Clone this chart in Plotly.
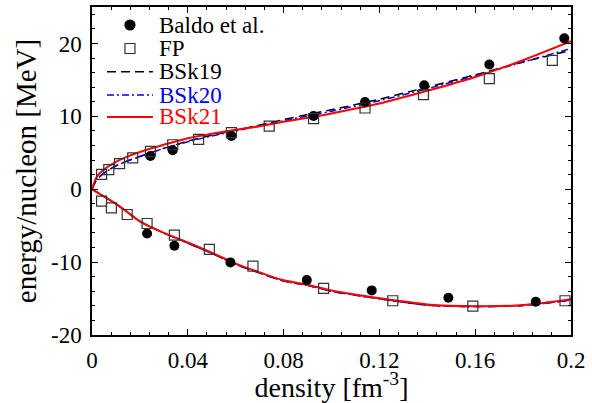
import plotly.graph_objects as go

# density grid for the model curves [fm^-3]
rho = [0, 0.002, 0.005, 0.01, 0.015, 0.02, 0.03, 0.04, 0.05, 0.06, 0.07,
       0.08, 0.09, 0.1, 0.12, 0.14, 0.16, 0.18, 0.2]

# neutron matter (upper branch)
bsk19_nm = [0, 1.3, 2.2, 3.2, 3.9, 4.5, 5.6, 6.6, 7.4, 8.1, 8.8,
            9.55, 10.25, 10.9, 12.35, 14.0, 15.7, 17.45, 19.05]
bsk20_nm = [0, 1.3, 2.2, 3.2, 3.9, 4.5, 5.6, 6.5, 7.3, 8.0, 8.7,
            9.4, 10.05, 10.7, 12.15, 13.8, 15.55, 17.45, 19.3]
bsk21_nm = [0, 1.7, 2.7, 3.75, 4.5, 5.1, 6.1, 7.0, 7.6, 8.15, 8.65,
            9.25, 9.8, 10.4, 11.75, 13.5, 15.4, 17.7, 20.3]

# symmetric matter (lower branch)
bsk19_sm = [0, -0.4, -1.0, -2.0, -3.2, -4.4, -6.0, -7.4, -8.8, -10.3, -11.5,
            -12.6, -13.2, -14.0, -15.0, -15.9, -16.1, -15.95, -15.2]
bsk20_sm = [0, -0.4, -1.0, -2.0, -3.2, -4.4, -6.0, -7.4, -8.8, -10.3, -11.5,
            -12.6, -13.2, -14.0, -15.05, -15.9, -16.1, -15.95, -15.2]
bsk21_sm = [0, -0.4, -1.0, -2.0, -3.2, -4.4, -6.0, -7.3, -8.7, -10.2, -11.4,
            -12.5, -13.1, -13.9, -14.95, -15.8, -16.05, -15.9, -15.1]

# Baldo et al.
baldo_nm_x = [0.0244, 0.0337, 0.0582, 0.0925, 0.114, 0.1387, 0.1659, 0.1972]
baldo_nm_y = [4.56, 5.34, 7.3, 10.04, 11.96, 14.25, 17.1, 20.7]
baldo_sm_x = [0.023, 0.0344, 0.0578, 0.0897, 0.1168, 0.1488, 0.1853]
baldo_sm_y = [-6.07, -7.76, -10.04, -12.47, -13.88, -14.9, -15.44]

# FP
fp_nm_x = [0.004, 0.007, 0.0115, 0.017, 0.0244, 0.0337, 0.0445, 0.0582,
           0.074, 0.0925, 0.114, 0.1384, 0.1659, 0.1922]
fp_nm_y = [2.05, 2.7, 3.5, 4.3, 5.2, 6.1, 6.85, 7.77,
           8.67, 9.68, 11.14, 12.97, 15.16, 17.67]
fp_sm_x = [0.004, 0.0081, 0.0147, 0.023, 0.0344, 0.049, 0.0672,
           0.0967, 0.1256, 0.159, 0.1975]
fp_sm_y = [-1.64, -2.56, -3.47, -4.7, -6.3, -8.26, -10.55,
           -13.6, -15.3, -16.03, -15.3]

x_ticks = [0, 0.04, 0.08, 0.12, 0.16, 0.2]
x_labels = ["0", "0.04", "0.08", "0.12", "0.16", "0.2"]
y_ticks = [-20, -10, 0, 10, 20]
y_labels = ["-20", "-10", "0", "10", "20"]

FONT = "Liberation Serif, Times New Roman, serif"

circle_m = dict(symbol="circle", size=10, color="black")
square_m = dict(symbol="square-open", size=10, color="#333333", line=dict(width=1.2))
models = [
    ("BSk19", bsk19_nm, bsk19_sm, dict(color="black", width=1.5, dash="9px,5px")),
    ("BSk20", bsk20_nm, bsk20_sm, dict(color="#0000ee", width=1.5, dash="7px,3px,2px,3px")),
    ("BSk21", bsk21_nm, bsk21_sm, dict(color="red", width=2)),
]

fig = go.Figure()

for name, nm, sm, line in models:
    for ys in (nm, sm):
        fig.add_trace(go.Scatter(x=rho, y=ys, mode="lines", name=name,
                                 line=dict(shape="spline", smoothing=0.8, **line),
                                 showlegend=False))

for xs, ys in [(baldo_nm_x, baldo_nm_y), (baldo_sm_x, baldo_sm_y)]:
    fig.add_trace(go.Scatter(x=xs, y=ys, mode="markers", name="Baldo et al.", marker=circle_m, showlegend=False))
for xs, ys in [(fp_nm_x, fp_nm_y), (fp_sm_x, fp_sm_y)]:
    fig.add_trace(go.Scatter(x=xs, y=ys, mode="markers", name="FP", marker=square_m, showlegend=False))

# --- hand-made legend (plotly's own legend rows are too tall) ---
L, T, W, H = 92, 7, 479.5, 328  # plot area in pixels


def px(v):
    return (v - L) / W


def py(v):
    return (T + H - v) / H


legend_rows = [
    ("Baldo et al.", "black", 25, "circle", None),
    ("FP", "black", 48.5, "square", None),
    ("BSk19", "black", 71.7, "line", models[0][3]),
    ("BSk20", "#0000ee", 95, "line", models[1][3]),
    ("BSk21", "red", 117, "line", models[2][3]),
]
for label, col, ypix, kind, line in legend_rows:
    if kind == "line":
        fig.add_shape(type="line", xref="paper", yref="paper",
                      x0=px(107), x1=px(153), y0=py(ypix), y1=py(ypix),
                      line=dict(color=line["color"], width=line["width"], dash=line.get("dash", "solid")))
    else:
        fig.add_shape(type=("circle" if kind == "circle" else "rect"), xref="paper", yref="paper",
                      xsizemode="pixel", ysizemode="pixel",
                      xanchor=px(130), yanchor=py(ypix), x0=-5, x1=5, y0=-5, y1=5,
                      fillcolor=("black" if kind == "circle" else "rgba(0,0,0,0)"),
                      line=dict(color=("black" if kind == "circle" else "#333333"), width=1.2))
    fig.add_annotation(text=label, xref="paper", yref="paper", x=px(157), y=py(ypix),
                       xanchor="left", yanchor="middle", showarrow=False,
                       font=dict(family=FONT, size=23, color=col))

axis_common = dict(
    showline=True, linecolor="black", linewidth=1.5, mirror="ticks",
    ticks="inside", ticklen=6, tickwidth=1.2, tickcolor="black",
    showgrid=False, zeroline=False, automargin=False,
    tickfont=dict(family=FONT, size=23, color="black"),
)

fig.update_xaxes(
    range=[0, 0.2], tickvals=x_ticks, ticktext=x_labels, ticklabelstandoff=4,
    minor=dict(dtick=0.008, ticks="inside", ticklen=3.5, tickcolor="black", showgrid=False),
    title=dict(text="density [fm<sup>-3</sup>]", font=dict(family=FONT, size=28, color="black"),
               standoff=2),
    **axis_common)
fig.update_yaxes(
    range=[-20, 25], tickvals=y_ticks, ticktext=y_labels, ticklabelstandoff=4,
    minor=dict(dtick=2, ticks="inside", ticklen=3.5, tickcolor="black", showgrid=False),
    title=dict(text="energy/nucleon [MeV]", font=dict(family=FONT, size=29, color="black"),
               standoff=6),
    **axis_common)

fig.update_layout(
    width=592, height=403,
    margin=dict(l=L, r=592 - L - W, t=T, b=403 - T - H),
    plot_bgcolor="white", paper_bgcolor="white",
    font=dict(family=FONT, color="black"),
    showlegend=False,
)

# drop the page's default body margin so the figure sits at the window origin
fig.write_html("out.html", config={"displayModeBar": False},
               post_script="document.body.style.margin='0';")
